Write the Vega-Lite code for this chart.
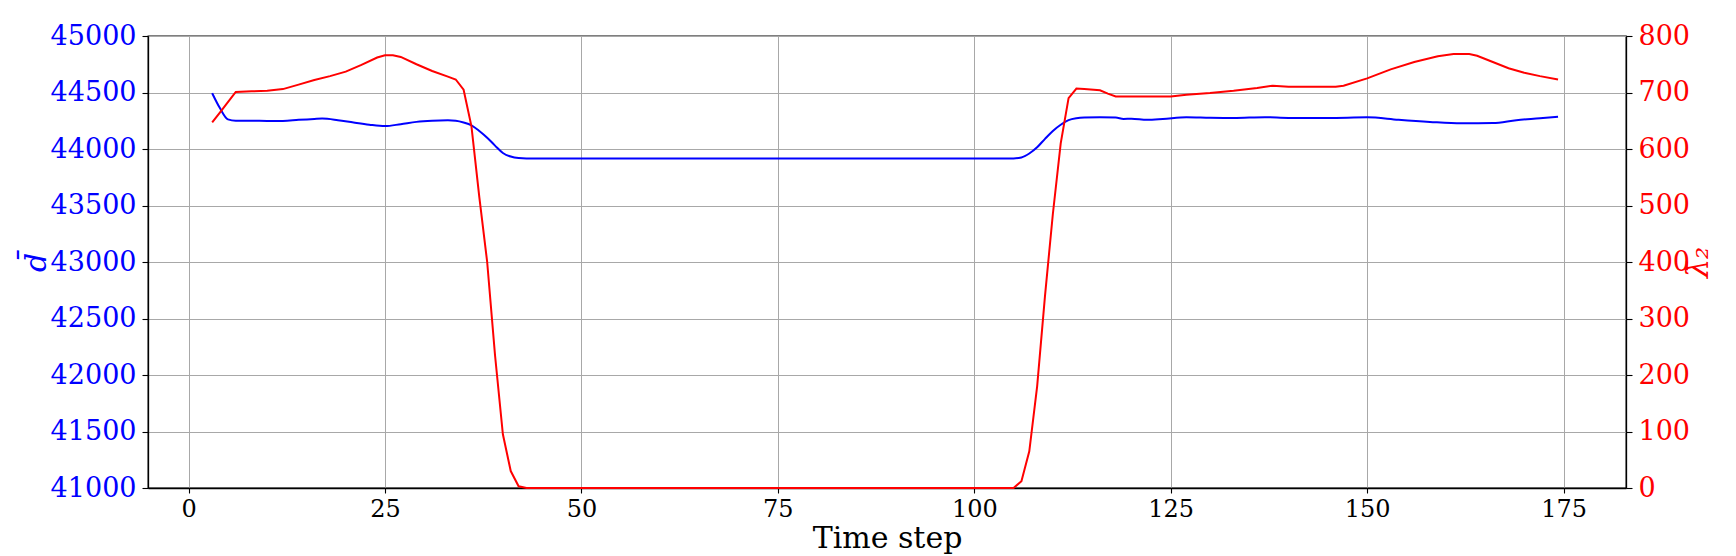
{
  "$schema": "https://vega.github.io/schema/vega-lite/v6.json",
  "width": 1478,
  "height": 452,
  "autosize": {"type": "none"},
  "padding": {"left": 148, "top": 36, "right": 110, "bottom": 68},
  "background": "white",
  "config": {
    "view": {"stroke": "black", "strokeWidth": 1.3},
    "font": "DejaVu Serif",
    "axis": {
      "labelFont": "DejaVu Serif",
      "titleFont": "DejaVu Serif",
      "titleFontWeight": "normal",
      "domainColor": "black",
      "domainWidth": 1.3,
      "tickColor": "black",
      "tickWidth": 1.1,
      "gridColor": "#a8a8a8",
      "gridWidth": 1,
      "gridOpacity": 1
    }
  },
  "datasets": {
    "blue": [
      {"t": 3, "d": 44494}, {"t": 4, "d": 44360}, {"t": 5, "d": 44262}, {"t": 6, "d": 44250},
      {"t": 8, "d": 44250}, {"t": 10, "d": 44248}, {"t": 12, "d": 44248}, {"t": 14, "d": 44258},
      {"t": 16, "d": 44266}, {"t": 17, "d": 44269}, {"t": 19, "d": 44255}, {"t": 21, "d": 44234},
      {"t": 23, "d": 44215}, {"t": 25, "d": 44203}, {"t": 27, "d": 44220}, {"t": 29, "d": 44240},
      {"t": 31, "d": 44250}, {"t": 33, "d": 44254}, {"t": 34, "d": 44250}, {"t": 35, "d": 44235},
      {"t": 36, "d": 44210}, {"t": 37, "d": 44160}, {"t": 38, "d": 44100}, {"t": 39, "d": 44030},
      {"t": 40, "d": 43965}, {"t": 41, "d": 43933}, {"t": 42, "d": 43920}, {"t": 43, "d": 43917},
      {"t": 50, "d": 43917}, {"t": 60, "d": 43917}, {"t": 70, "d": 43917}, {"t": 80, "d": 43917},
      {"t": 90, "d": 43917}, {"t": 100, "d": 43917}, {"t": 105, "d": 43917}, {"t": 106, "d": 43925},
      {"t": 107, "d": 43960}, {"t": 108, "d": 44015}, {"t": 109, "d": 44090}, {"t": 110, "d": 44160},
      {"t": 111, "d": 44215}, {"t": 112, "d": 44255}, {"t": 113, "d": 44272}, {"t": 114, "d": 44278},
      {"t": 116, "d": 44280}, {"t": 118, "d": 44278}, {"t": 119, "d": 44266}, {"t": 120, "d": 44268},
      {"t": 122, "d": 44258}, {"t": 124, "d": 44265}, {"t": 127, "d": 44280}, {"t": 130, "d": 44276},
      {"t": 133, "d": 44274}, {"t": 137, "d": 44282}, {"t": 140, "d": 44275}, {"t": 145, "d": 44275},
      {"t": 150, "d": 44280}, {"t": 154, "d": 44258}, {"t": 158, "d": 44240}, {"t": 162, "d": 44228},
      {"t": 166, "d": 44230}, {"t": 169, "d": 44255}, {"t": 172, "d": 44272}, {"t": 174.3, "d": 44286}
    ],
    "red": [
      {"t": 3, "l": 647}, {"t": 4, "l": 665}, {"t": 5, "l": 683}, {"t": 6, "l": 701},
      {"t": 8, "l": 702}, {"t": 10, "l": 703}, {"t": 12, "l": 706}, {"t": 14, "l": 714},
      {"t": 16, "l": 722}, {"t": 18, "l": 729}, {"t": 20, "l": 737}, {"t": 22, "l": 749},
      {"t": 24, "l": 762}, {"t": 25, "l": 766}, {"t": 26, "l": 766}, {"t": 27, "l": 763},
      {"t": 29, "l": 750}, {"t": 31, "l": 738}, {"t": 33, "l": 728}, {"t": 34, "l": 723},
      {"t": 35, "l": 705}, {"t": 36, "l": 640}, {"t": 37, "l": 515}, {"t": 38, "l": 400},
      {"t": 39, "l": 235}, {"t": 40, "l": 95}, {"t": 41, "l": 30}, {"t": 42, "l": 3},
      {"t": 43, "l": 0}, {"t": 50, "l": 0}, {"t": 60, "l": 0}, {"t": 70, "l": 0},
      {"t": 80, "l": 0}, {"t": 90, "l": 0}, {"t": 100, "l": 0}, {"t": 105, "l": 0},
      {"t": 106, "l": 12}, {"t": 107, "l": 65}, {"t": 108, "l": 180}, {"t": 109, "l": 340},
      {"t": 110, "l": 485}, {"t": 111, "l": 610}, {"t": 112, "l": 690}, {"t": 113, "l": 707},
      {"t": 114, "l": 706}, {"t": 116, "l": 704}, {"t": 117, "l": 698}, {"t": 118, "l": 693},
      {"t": 120, "l": 693}, {"t": 125, "l": 693}, {"t": 127, "l": 696}, {"t": 130, "l": 699},
      {"t": 133, "l": 703}, {"t": 136, "l": 708}, {"t": 138, "l": 712}, {"t": 140, "l": 710},
      {"t": 146, "l": 710}, {"t": 147, "l": 712}, {"t": 150, "l": 725}, {"t": 153, "l": 741},
      {"t": 156, "l": 754}, {"t": 159, "l": 764}, {"t": 161, "l": 768}, {"t": 163, "l": 768},
      {"t": 164, "l": 765}, {"t": 166, "l": 754}, {"t": 168, "l": 743}, {"t": 170, "l": 735},
      {"t": 172, "l": 729}, {"t": 174.3, "l": 723}
    ]
  },
  "encoding": {
    "x": {
      "field": "t",
      "type": "quantitative",
      "scale": {"domain": [-5.17, 182.95], "nice": false, "zero": false},
      "axis": {
        "values": [0, 25, 50, 75, 100, 125, 150, 175],
        "title": "Time step",
        "titleFontSize": 30,
        "titleColor": "black",
        "titleBaseline": "alphabetic",
        "titleY": 59,
        "labelFontSize": 24,
        "labelColor": "black",
        "tickSize": 5,
        "labelPadding": 4,
        "grid": true
      }
    }
  },
  "layer": [
    {
      "data": {"name": "blue"},
      "mark": {"type": "line", "color": "#0000ff", "strokeWidth": 2, "interpolate": "monotone"},
      "encoding": {
        "y": {
          "field": "d",
          "type": "quantitative",
          "scale": {"domain": [41000, 45000], "nice": false, "zero": false},
          "axis": {
            "orient": "left",
            "values": [41000, 41500, 42000, 42500, 43000, 43500, 44000, 44500, 45000],
            "format": "d",
            "title": "d̄",
            "titleFontSize": 30,
            "titleFontStyle": "italic",
            "titleColor": "#0000ff",
            "titleAngle": 270,
            "titleX": -112,
            "titleY": 226,
            "titleAlign": "center",
            "titleBaseline": "middle",
            "labelFontSize": 27,
            "labelColor": "#0000ff",
            "tickSize": 6,
            "labelPadding": 6,
            "grid": true
          }
        }
      }
    },
    {
      "data": {"name": "red"},
      "mark": {"type": "line", "color": "#ff0000", "strokeWidth": 2},
      "encoding": {
        "y": {
          "field": "l",
          "type": "quantitative",
          "scale": {"domain": [0, 800], "nice": false, "zero": false},
          "axis": {
            "orient": "right",
            "values": [0, 100, 200, 300, 400, 500, 600, 700, 800],
            "format": "d",
            "title": "λ̄₂",
            "titleFontSize": 30,
            "titleFontStyle": "italic",
            "titleColor": "#ff0000",
            "titleAngle": 270,
            "titleX": 72,
            "titleY": 226,
            "titleAlign": "center",
            "titleBaseline": "middle",
            "labelFontSize": 27,
            "labelColor": "#ff0000",
            "tickSize": 6,
            "labelPadding": 6,
            "grid": false
          }
        }
      }
    }
  ],
  "resolve": {"scale": {"y": "independent"}, "axis": {"y": "independent"}}
}
